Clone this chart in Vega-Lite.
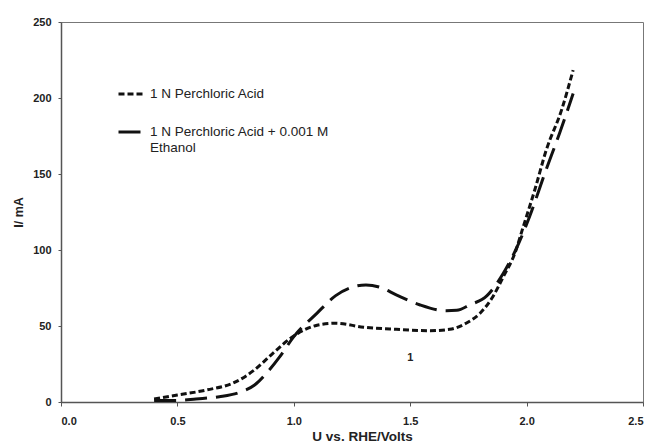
{
  "$schema": "https://vega.github.io/schema/vega-lite/v6.json",
  "width": 582,
  "height": 380,
  "autosize": {"type": "none"},
  "padding": {"left": 61, "top": 22, "right": 11, "bottom": 44},
  "background": "white",
  "config": {
    "font": "Liberation Sans",
    "view": {"stroke": "#777777", "strokeWidth": 1},
    "axis": {
      "grid": false,
      "domainColor": "#555555",
      "domainWidth": 1.5,
      "tickColor": "#555555",
      "labelFont": "Liberation Sans",
      "labelFontWeight": "bold",
      "labelFontSize": 11,
      "labelColor": "#222222",
      "titleFont": "Liberation Sans",
      "titleFontWeight": "bold",
      "titleColor": "#222222"
    }
  },
  "layer": [
    {
      "data": {
        "values": [
          {"U": 0.40, "I": 2.0, "series": "1 N Perchloric Acid"},
          {"U": 0.50, "I": 4.6, "series": "1 N Perchloric Acid"},
          {"U": 0.625, "I": 7.9, "series": "1 N Perchloric Acid"},
          {"U": 0.75, "I": 13.2, "series": "1 N Perchloric Acid"},
          {"U": 0.83, "I": 21, "series": "1 N Perchloric Acid"},
          {"U": 0.91, "I": 32, "series": "1 N Perchloric Acid"},
          {"U": 1.00, "I": 43.5, "series": "1 N Perchloric Acid"},
          {"U": 1.10, "I": 50.5, "series": "1 N Perchloric Acid"},
          {"U": 1.18, "I": 51.8, "series": "1 N Perchloric Acid"},
          {"U": 1.30, "I": 49.2, "series": "1 N Perchloric Acid"},
          {"U": 1.44, "I": 47.8, "series": "1 N Perchloric Acid"},
          {"U": 1.58, "I": 46.9, "series": "1 N Perchloric Acid"},
          {"U": 1.67, "I": 47.8, "series": "1 N Perchloric Acid"},
          {"U": 1.74, "I": 51.8, "series": "1 N Perchloric Acid"},
          {"U": 1.80, "I": 58.4, "series": "1 N Perchloric Acid"},
          {"U": 1.855, "I": 69.3, "series": "1 N Perchloric Acid"},
          {"U": 1.90, "I": 82.4, "series": "1 N Perchloric Acid"},
          {"U": 1.95, "I": 98, "series": "1 N Perchloric Acid"},
          {"U": 1.985, "I": 115, "series": "1 N Perchloric Acid"},
          {"U": 2.035, "I": 139.5, "series": "1 N Perchloric Acid"},
          {"U": 2.085, "I": 166, "series": "1 N Perchloric Acid"},
          {"U": 2.15, "I": 192, "series": "1 N Perchloric Acid"},
          {"U": 2.20, "I": 218.4, "series": "1 N Perchloric Acid"},
          {"U": 0.40, "I": 1.0, "series": "1 N Perchloric Acid + 0.001 M Ethanol"},
          {"U": 0.50, "I": 1.0, "series": "1 N Perchloric Acid + 0.001 M Ethanol"},
          {"U": 0.58, "I": 2.0, "series": "1 N Perchloric Acid + 0.001 M Ethanol"},
          {"U": 0.68, "I": 3.5, "series": "1 N Perchloric Acid + 0.001 M Ethanol"},
          {"U": 0.77, "I": 6.5, "series": "1 N Perchloric Acid + 0.001 M Ethanol"},
          {"U": 0.83, "I": 11, "series": "1 N Perchloric Acid + 0.001 M Ethanol"},
          {"U": 0.88, "I": 18.5, "series": "1 N Perchloric Acid + 0.001 M Ethanol"},
          {"U": 0.94, "I": 29.8, "series": "1 N Perchloric Acid + 0.001 M Ethanol"},
          {"U": 1.00, "I": 43, "series": "1 N Perchloric Acid + 0.001 M Ethanol"},
          {"U": 1.10, "I": 58.5, "series": "1 N Perchloric Acid + 0.001 M Ethanol"},
          {"U": 1.18, "I": 70, "series": "1 N Perchloric Acid + 0.001 M Ethanol"},
          {"U": 1.25, "I": 75.5, "series": "1 N Perchloric Acid + 0.001 M Ethanol"},
          {"U": 1.31, "I": 77, "series": "1 N Perchloric Acid + 0.001 M Ethanol"},
          {"U": 1.37, "I": 75.5, "series": "1 N Perchloric Acid + 0.001 M Ethanol"},
          {"U": 1.44, "I": 70.5, "series": "1 N Perchloric Acid + 0.001 M Ethanol"},
          {"U": 1.54, "I": 64, "series": "1 N Perchloric Acid + 0.001 M Ethanol"},
          {"U": 1.655, "I": 60, "series": "1 N Perchloric Acid + 0.001 M Ethanol"},
          {"U": 1.70, "I": 60.3, "series": "1 N Perchloric Acid + 0.001 M Ethanol"},
          {"U": 1.755, "I": 63.8, "series": "1 N Perchloric Acid + 0.001 M Ethanol"},
          {"U": 1.83, "I": 70, "series": "1 N Perchloric Acid + 0.001 M Ethanol"},
          {"U": 1.90, "I": 84.7, "series": "1 N Perchloric Acid + 0.001 M Ethanol"},
          {"U": 1.95, "I": 99, "series": "1 N Perchloric Acid + 0.001 M Ethanol"},
          {"U": 2.013, "I": 122, "series": "1 N Perchloric Acid + 0.001 M Ethanol"},
          {"U": 2.077, "I": 150, "series": "1 N Perchloric Acid + 0.001 M Ethanol"},
          {"U": 2.142, "I": 177, "series": "1 N Perchloric Acid + 0.001 M Ethanol"},
          {"U": 2.20, "I": 203, "series": "1 N Perchloric Acid + 0.001 M Ethanol"}
        ]
      },
      "mark": {"type": "line", "interpolate": "monotone", "strokeWidth": 3, "color": "#111111", "strokeCap": "butt"},
      "encoding": {
        "x": {
          "field": "U", "type": "quantitative",
          "scale": {"domain": [0, 2.5], "nice": false},
          "axis": {"values": [0, 0.5, 1, 1.5, 2, 2.5], "format": ".1f", "tickSize": 4, "labelPadding": 9, "title": "U vs. RHE/Volts", "titleFontSize": 13.5, "titlePadding": 3, "titleX": 301}
        },
        "y": {
          "field": "I", "type": "quantitative",
          "scale": {"domain": [0, 250], "nice": false},
          "axis": {"values": [0, 50, 100, 150, 200, 250], "tickSize": 3, "labelPadding": 7, "title": "I/ mA", "titleFontSize": 12.5, "titlePadding": 7}
        },
        "strokeDash": {
          "field": "series", "type": "nominal",
          "scale": {"domain": ["1 N Perchloric Acid", "1 N Perchloric Acid + 0.001 M Ethanol"], "range": [[6, 3], [22, 9]]},
          "legend": {
            "title": null,
            "orient": "none",
            "legendX": 56,
            "legendY": 58,
            "padding": 0,
            "symbolType": "stroke",
            "symbolSize": 625,
            "symbolStrokeWidth": 3,
            "symbolStrokeColor": "#111111",
            "labelFont": "Liberation Sans",
            "labelFontSize": 13.5,
            "labelColor": "#222222",
            "labelOffset": 5,
            "labelLimit": 300,
            "rowPadding": 17,
            "labelExpr": "datum.label == '1 N Perchloric Acid + 0.001 M Ethanol' ? ['1 N Perchloric Acid + 0.001 M', 'Ethanol'] : datum.label"
          }
        },
        "order": {"field": "U", "type": "quantitative"}
      }
    },
    {
      "data": {"values": [{"U": 1.5, "I": 29, "label": "1"}]},
      "mark": {"type": "text", "fontWeight": "bold", "fontSize": 11, "font": "Liberation Sans", "color": "#222222"},
      "encoding": {
        "x": {"field": "U", "type": "quantitative"},
        "y": {"field": "I", "type": "quantitative"},
        "text": {"field": "label"}
      }
    }
  ]
}
